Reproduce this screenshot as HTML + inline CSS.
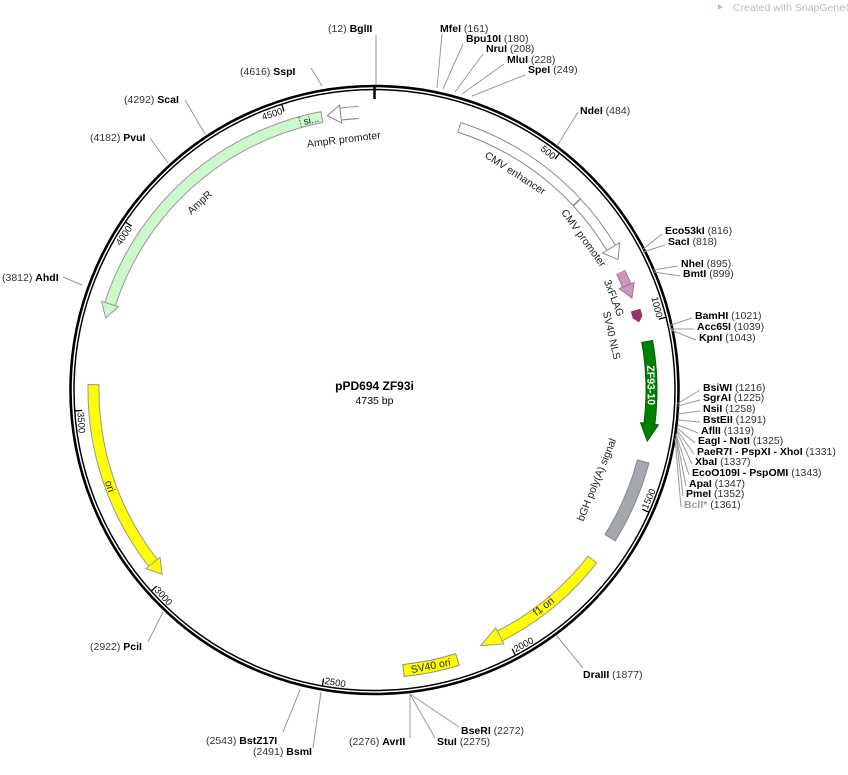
<!DOCTYPE html>
<html><head><meta charset="utf-8"><style>
body{margin:0;background:#fff}
svg{display:block;font-family:"Liberation Sans","DejaVu Sans",sans-serif}
.e{font-weight:bold;fill:#000;font-size:10.5px}
.n{fill:#333;font-size:10.5px}
.t{font-size:9.5px;fill:#111}
.f{font-size:10.5px;fill:#222}
.l{stroke:#999;stroke-width:1;fill:none}
</style></head><body>
<svg width="848" height="775" viewBox="0 0 848 775" xmlns="http://www.w3.org/2000/svg">
<rect width="848" height="775" fill="#fff"/>
<text x="733" y="11" font-size="10.5" fill="#bbb">Created with SnapGene®</text>
<path d="M718 4 l5 3 -5 3z" fill="#9cd"/>

<!-- ring -->
<circle cx="374.5" cy="390" r="304" fill="none" stroke="#000" stroke-width="2.6"/>
<circle cx="374.5" cy="390" r="300.5" fill="none" stroke="#000" stroke-width="1.5"/>
<line x1="374.5" y1="85" x2="374.5" y2="99" stroke="#000" stroke-width="2.5"/>

<!-- ticks -->
<g stroke="#000" stroke-width="1.3">
<line x1="374.5" y1="90" x2="374.5" y2="97" transform="rotate(38 374.5 390)"/>
<line x1="374.5" y1="90" x2="374.5" y2="97" transform="rotate(76 374.5 390)"/>
<line x1="374.5" y1="90" x2="374.5" y2="97" transform="rotate(114 374.5 390)"/>
<line x1="374.5" y1="90" x2="374.5" y2="97" transform="rotate(152 374.5 390)"/>
<line x1="374.5" y1="90" x2="374.5" y2="97" transform="rotate(190 374.5 390)"/>
<line x1="374.5" y1="90" x2="374.5" y2="97" transform="rotate(228 374.5 390)"/>
<line x1="374.5" y1="90" x2="374.5" y2="97" transform="rotate(266 374.5 390)"/>
<line x1="374.5" y1="90" x2="374.5" y2="97" transform="rotate(304 374.5 390)"/>
<line x1="374.5" y1="90" x2="374.5" y2="97" transform="rotate(342 374.5 390)"/>
</g>
<g class="t">
<text x="373" y="99" text-anchor="end" transform="rotate(38 374.5 390)">500</text>
<text x="373" y="99" text-anchor="end" transform="rotate(76 374.5 390)">1000</text>
<text x="376" y="688" text-anchor="start" transform="rotate(-66 374.5 390)">1500</text>
<text x="376" y="688" text-anchor="start" transform="rotate(-28 374.5 390)">2000</text>
<text x="376" y="688" text-anchor="start" transform="rotate(10 374.5 390)">2500</text>
<text x="376" y="688" text-anchor="start" transform="rotate(48 374.5 390)">3000</text>
<text x="376" y="688" text-anchor="start" transform="rotate(86 374.5 390)">3500</text>
<text x="373" y="99" text-anchor="end" transform="rotate(304 374.5 390)">4000</text>
<text x="373" y="99" text-anchor="end" transform="rotate(342 374.5 390)">4500</text>
</g>

<!-- features -->
<g fill="none">
<circle cx="374.5" cy="390" r="276" stroke="#888" stroke-width="11" pathLength="360" stroke-dasharray="29.4 400" transform="rotate(-72.2 374.5 390)"/>
<circle cx="374.5" cy="390" r="276" stroke="#fff" stroke-width="9" pathLength="360" stroke-dasharray="29 400" transform="rotate(-72 374.5 390)"/>
<circle cx="374.5" cy="390" r="276" stroke="#888" stroke-width="11" pathLength="360" stroke-dasharray="12 400" transform="rotate(-42.9 374.5 390)"/>
<circle cx="374.5" cy="390" r="276" stroke="#fff" stroke-width="9" pathLength="360" stroke-dasharray="12 400" transform="rotate(-42.7 374.5 390)"/>
<circle cx="374.5" cy="390" r="278" stroke="#888" stroke-width="13" pathLength="360" stroke-dasharray="3.9 400" transform="rotate(-97.2 374.5 390)"/>
<circle cx="374.5" cy="390" r="278" stroke="#fff" stroke-width="11" pathLength="360" stroke-dasharray="3.9 400" transform="rotate(-97 374.5 390)"/>
<circle cx="374.5" cy="390" r="278" stroke="#999" stroke-width="12" pathLength="360" stroke-dasharray="61.4 400" transform="rotate(-162.2 374.5 390)"/>
<circle cx="374.5" cy="390" r="278" stroke="#ccf8cc" stroke-width="10" pathLength="360" stroke-dasharray="61 400" transform="rotate(-162 374.5 390)"/>
<circle cx="374.5" cy="390" r="281" stroke="#999" stroke-width="12" pathLength="360" stroke-dasharray="39.4 400" transform="rotate(141.8 374.5 390)"/>
<circle cx="374.5" cy="390" r="281" stroke="#ff0" stroke-width="10" pathLength="360" stroke-dasharray="39 400" transform="rotate(142 374.5 390)"/>
<circle cx="374.5" cy="390" r="276" stroke="#999" stroke-width="12" pathLength="360" stroke-dasharray="25.4 400" transform="rotate(37.8 374.5 390)"/>
<circle cx="374.5" cy="390" r="276" stroke="#ff0" stroke-width="10" pathLength="360" stroke-dasharray="25 400" transform="rotate(38 374.5 390)"/>
<circle cx="374.5" cy="390" r="282" stroke="#888" stroke-width="13" pathLength="360" stroke-dasharray="11.4 400" transform="rotate(72.8 374.5 390)"/>
<circle cx="374.5" cy="390" r="282" stroke="#ff0" stroke-width="11" pathLength="360" stroke-dasharray="11 400" transform="rotate(73 374.5 390)"/>
<circle cx="374.5" cy="390" r="278" stroke="#888" stroke-width="13" pathLength="360" stroke-dasharray="17.4 400" transform="rotate(14.8 374.5 390)"/>
<circle cx="374.5" cy="390" r="278" stroke="#a4a8ac" stroke-width="11" pathLength="360" stroke-dasharray="17 400" transform="rotate(15 374.5 390)"/>
<circle cx="374.5" cy="390" r="277" stroke="#006000" stroke-width="12" pathLength="360" stroke-dasharray="17.4 400" transform="rotate(-10.2 374.5 390)"/>
<circle cx="374.5" cy="390" r="277" stroke="#008000" stroke-width="10" pathLength="360" stroke-dasharray="17 400" transform="rotate(-10 374.5 390)"/>
<circle cx="374.5" cy="390" r="273" stroke="#a07090" stroke-width="10" pathLength="360" stroke-dasharray="3.2 400" transform="rotate(-25.6 374.5 390)"/>
<circle cx="374.5" cy="390" r="273" stroke="#cc99bb" stroke-width="8" pathLength="360" stroke-dasharray="3 400" transform="rotate(-25.5 374.5 390)"/>
<circle cx="374.5" cy="390" r="273" stroke="#993366" stroke-width="10" pathLength="360" stroke-dasharray="1.6 400" transform="rotate(-17 374.5 390)"/>
</g>
<!-- arrowheads -->
<polygon points="374.5,104 374.5,124 388,114" fill="#fff" stroke="#888" transform="rotate(59 374.5 390)"/>
<polygon points="374.5,103 374.5,121 361,112" fill="#fff" stroke="#888" transform="rotate(-7 374.5 390)"/>
<polygon points="374.5,103 374.5,121 360,112" fill="#ccf8cc" stroke="#999" transform="rotate(-72 374.5 390)"/>
<polygon points="374.5,100 374.5,118 360,109" fill="#ff0" stroke="#999" transform="rotate(232 374.5 390)"/>
<polygon points="374.5,105 374.5,123 396,114" fill="#ff0" stroke="#999" transform="rotate(153 374.5 390)"/>
<polygon points="374.5,104 374.5,122 392,113" fill="#008000" stroke="#006000" transform="rotate(97 374.5 390)"/>
<polygon points="374.5,109 374.5,125 388,117" fill="#cc99bb" stroke="#a07090" transform="rotate(67.5 374.5 390)"/>
<polygon points="374.5,112 374.5,122 380,117" fill="#993366" transform="rotate(74.5 374.5 390)"/>
<line x1="374.5" y1="107" x2="374.5" y2="117" stroke="#555" stroke-dasharray="1.5 1.5" transform="rotate(-15.5 374.5 390)"/>

<!-- feature labels -->
<g class="f">
<text x="374.5" y="116" text-anchor="middle" transform="rotate(-13.2 374.5 390)" font-size="10">si...</text>
<text x="374.5" y="141" text-anchor="middle" transform="rotate(-7 374.5 390)">AmpR promoter</text>
<text x="374.5" y="135" text-anchor="middle" transform="rotate(33 374.5 390)">CMV enhancer</text>
<text x="374.5" y="135" text-anchor="middle" transform="rotate(54 374.5 390)">CMV promoter</text>
<text x="374.5" y="137" text-anchor="middle" transform="rotate(69 374.5 390)">3xFLAG</text>
<text x="374.5" y="150" text-anchor="middle" transform="rotate(77 374.5 390)">SV40 NLS</text>
<text x="374.5" y="117" text-anchor="middle" transform="rotate(89 374.5 390)" font-weight="bold" fill="#fff">ZF93-10</text>
<text x="374.5" y="633" text-anchor="middle" transform="rotate(-68 374.5 390)">bGH poly(A) signal</text>
<text x="374.5" y="668" text-anchor="middle" transform="rotate(-38 374.5 390)">f1 ori</text>
<text x="374.5" y="675" text-anchor="middle" transform="rotate(-11.5 374.5 390)">SV40 ori</text>
<text x="374.5" y="675" text-anchor="middle" transform="rotate(70 374.5 390)">ori</text>
<text x="374.5" y="137" text-anchor="middle" transform="rotate(-43 374.5 390)">AmpR</text>
</g>

<text x="374.5" y="390" text-anchor="middle" font-weight="bold" font-size="12">pPD694 ZF93i</text>
<text x="374.5" y="404" text-anchor="middle" font-size="10.5">4735 bp</text>

<g class="l">
<polyline points="311,68 322,86"/>
<polyline points="376,35 376,85"/>
<polyline points="442,34 437,88"/>
<polyline points="463,44 443,89"/>
<polyline points="483,54 455,92"/>
<polyline points="504,64 462,94"/>
<polyline points="525,75 472,96"/>
<polyline points="578,112 557,146"/>
<polyline points="662,234 642,250"/>
<polyline points="665,245 643,252"/>
<polyline points="678,266 653,270"/>
<polyline points="680,276 654,272"/>
<polyline points="692,318 668,326"/>
<polyline points="694,329 670,329"/>
<polyline points="696,340 671,330"/>
<polyline points="700,390 677,404"/>
<polyline points="700,400 678,406"/>
<polyline points="700,411 678,414"/>
<polyline points="700,422 678,420"/>
<polyline points="698,433 678,425"/>
<polyline points="695,443 677,428"/>
<polyline points="694,454 677,430"/>
<polyline points="692,464 677,432"/>
<polyline points="689,475 676,434"/>
<polyline points="686,486 676,435"/>
<polyline points="683,496 676,436"/>
<polyline points="681,507 675,438"/>
<polyline points="583,668 556,635"/>
<polyline points="459,727 410,694"/>
<polyline points="435,738 410,694"/>
<polyline points="410,738 410,694"/>
<polyline points="283,732 300,690"/>
<polyline points="313,748 321,692"/>
<polyline points="148,642 163,612"/>
<polyline points="63,277 82,285"/>
<polyline points="150,138 168,163"/>
<polyline points="185,100 205,134"/>
</g>

<text x="240" y="75"><tspan class="n">(4616) </tspan><tspan class="e">SspI</tspan></text>
<text x="328" y="32"><tspan class="n">(12) </tspan><tspan class="e">BglII</tspan></text>
<text x="440" y="32"><tspan class="e">MfeI</tspan><tspan class="n"> (161)</tspan></text>
<text x="466" y="42"><tspan class="e">Bpu10I</tspan><tspan class="n"> (180)</tspan></text>
<text x="486" y="52"><tspan class="e">NruI</tspan><tspan class="n"> (208)</tspan></text>
<text x="507" y="63"><tspan class="e">MluI</tspan><tspan class="n"> (228)</tspan></text>
<text x="528" y="73"><tspan class="e">SpeI</tspan><tspan class="n"> (249)</tspan></text>
<text x="580" y="114"><tspan class="e">NdeI</tspan><tspan class="n"> (484)</tspan></text>
<text x="665" y="234"><tspan class="e">Eco53kI</tspan><tspan class="n"> (816)</tspan></text>
<text x="668" y="245"><tspan class="e">SacI</tspan><tspan class="n"> (818)</tspan></text>
<text x="681" y="267"><tspan class="e">NheI</tspan><tspan class="n"> (895)</tspan></text>
<text x="683" y="277"><tspan class="e">BmtI</tspan><tspan class="n"> (899)</tspan></text>
<text x="695" y="319"><tspan class="e">BamHI</tspan><tspan class="n"> (1021)</tspan></text>
<text x="697" y="330"><tspan class="e">Acc65I</tspan><tspan class="n"> (1039)</tspan></text>
<text x="699" y="341"><tspan class="e">KpnI</tspan><tspan class="n"> (1043)</tspan></text>
<text x="703" y="391"><tspan class="e">BsiWI</tspan><tspan class="n"> (1216)</tspan></text>
<text x="703" y="401"><tspan class="e">SgrAI</tspan><tspan class="n"> (1225)</tspan></text>
<text x="703" y="412"><tspan class="e">NsiI</tspan><tspan class="n"> (1258)</tspan></text>
<text x="703" y="423"><tspan class="e">BstEII</tspan><tspan class="n"> (1291)</tspan></text>
<text x="701" y="434"><tspan class="e">AflII</tspan><tspan class="n"> (1319)</tspan></text>
<text x="698" y="444"><tspan class="e">EagI - NotI</tspan><tspan class="n"> (1325)</tspan></text>
<text x="697" y="455"><tspan class="e">PaeR7I - PspXI - XhoI</tspan><tspan class="n"> (1331)</tspan></text>
<text x="695" y="465"><tspan class="e">XbaI</tspan><tspan class="n"> (1337)</tspan></text>
<text x="692" y="476"><tspan class="e">EcoO109I - PspOMI</tspan><tspan class="n"> (1343)</tspan></text>
<text x="689" y="487"><tspan class="e">ApaI</tspan><tspan class="n"> (1347)</tspan></text>
<text x="686" y="497"><tspan class="e">PmeI</tspan><tspan class="n"> (1352)</tspan></text>
<text x="684" y="508"><tspan class="e" style="fill:#999">BclI*</tspan><tspan class="n"> (1361)</tspan></text>
<text x="583" y="678"><tspan class="e">DraIII</tspan><tspan class="n"> (1877)</tspan></text>
<text x="461" y="734"><tspan class="e">BseRI</tspan><tspan class="n"> (2272)</tspan></text>
<text x="437" y="745"><tspan class="e">StuI</tspan><tspan class="n"> (2275)</tspan></text>
<text x="349" y="745"><tspan class="n">(2276) </tspan><tspan class="e">AvrII</tspan></text>
<text x="206" y="744"><tspan class="n">(2543) </tspan><tspan class="e">BstZ17I</tspan></text>
<text x="253" y="755"><tspan class="n">(2491) </tspan><tspan class="e">BsmI</tspan></text>
<text x="90" y="650"><tspan class="n">(2922) </tspan><tspan class="e">PciI</tspan></text>
<text x="2" y="281"><tspan class="n">(3812) </tspan><tspan class="e">AhdI</tspan></text>
<text x="90" y="141"><tspan class="n">(4182) </tspan><tspan class="e">PvuI</tspan></text>
<text x="124" y="103"><tspan class="n">(4292) </tspan><tspan class="e">ScaI</tspan></text>
</svg>
</body></html>
